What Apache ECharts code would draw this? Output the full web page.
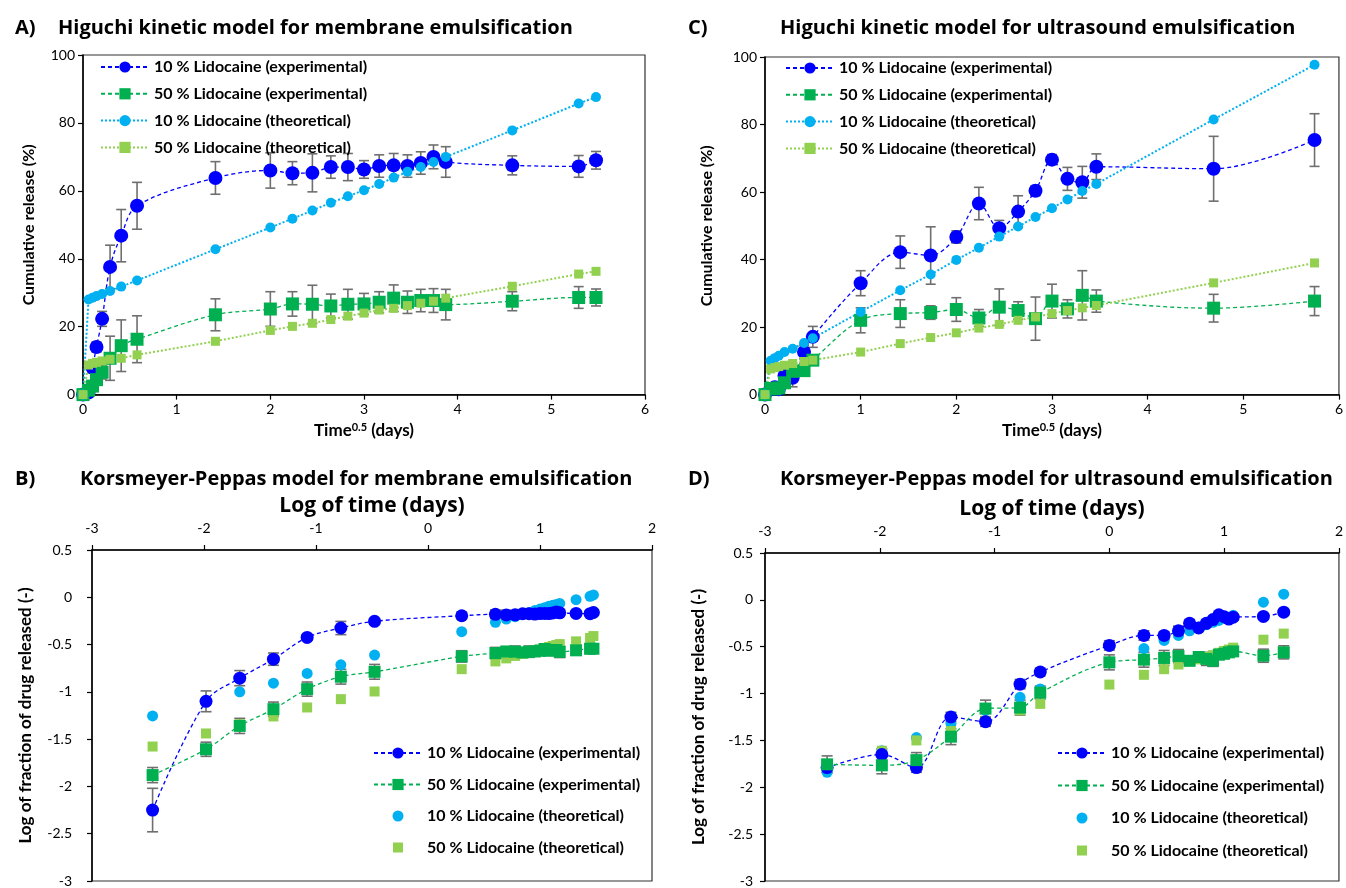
<!DOCTYPE html>
<html lang="en">
<head>
<meta charset="UTF-8">
<title>Lidocaine release kinetics</title>
<script src="https://cdn.jsdelivr.net/npm/echarts@6/dist/echarts.min.js"></script>
<style>
  body { margin: 0; background: #fff; }
  .panel { position: absolute; width: 673px; height: 444px; }
</style>
</head>
<body>
<div class="panel" id="pA" style="left:0;top:0;"></div>
<div class="panel" id="pC" style="left:673px;top:0;"></div>
<div class="panel" id="pB" style="left:0;top:444px;"></div>
<div class="panel" id="pD" style="left:673px;top:444px;"></div>

<script type="text/javascript">
// ---- A) Higuchi, membrane emulsification (x = sqrt of time in days) ----
var higMemX = [0, 0.059, 0.102, 0.144, 0.204, 0.289, 0.408, 0.577, 1.414, 2, 2.236, 2.449, 2.646, 2.828, 3, 3.162, 3.317, 3.464, 3.606, 3.742, 3.873, 4.583, 5.292, 5.477];
var higMem10Exp = [0, 0.6, 7.9, 14, 22.3, 37.6, 46.8, 55.6, 63.8, 66, 65.2, 65.3, 67, 67, 66.3, 67.3, 67.5, 67.3, 68.2, 70, 68.5, 67.5, 67.2, 69];
var higMem10Err = [0, 0.2, 1.5, 1.5, 2.2, 6.4, 7.7, 6.9, 4.8, 5.2, 3.4, 5.6, 3.3, 4, 2.6, 3.3, 3.5, 3.3, 3.3, 3.5, 4.5, 2.8, 3.2, 2.6];
var higMem50Exp = [0, 1.3, 2.5, 4.4, 6.6, 10.7, 14.4, 16.3, 23.5, 25.2, 26.7, 26.6, 26.1, 26.6, 26.7, 27.2, 28.4, 27.2, 27.7, 27.7, 26.5, 27.5, 28.6, 28.6];
var higMem50Err = [0, 0.3, 0.5, 1, 2, 6.5, 7.6, 6.9, 4.7, 5.1, 3.6, 5.6, 3.5, 4.4, 3.1, 3.1, 3.9, 3.3, 3.3, 3.5, 4.5, 2.8, 3.2, 2.5];
var higMem10Theo = [0, 28, 28.5, 29, 29.6, 30.5, 31.8, 33.6, 42.8, 49.2, 51.8, 54.2, 56.5, 58.4, 60.2, 62, 63.9, 65.6, 67, 68.5, 70, 77.8, 85.7, 87.6];
var higMem50Theo = [0, 8.7, 9.2, 9.5, 9.9, 10.4, 10.7, 11.7, 15.7, 18.9, 20.1, 21, 22.1, 23.1, 24, 24.9, 25.4, 26.2, 26.9, 27.5, 28.4, 31.9, 35.5, 36.3];

// ---- C) Higuchi, ultrasound emulsification ----
var higUsX = [0, 0.059, 0.102, 0.144, 0.204, 0.289, 0.408, 0.5, 1, 1.414, 1.732, 2, 2.236, 2.449, 2.646, 2.828, 3, 3.162, 3.317, 3.464, 4.69, 5.745];
var higUs10Exp = [0, 1.6, 2.2, 1.6, 5.6, 5.0, 12.6, 17.1, 33, 42.2, 41.2, 46.7, 56.6, 49.3, 54.2, 60.4, 69.6, 63.9, 62.9, 67.5, 66.9, 75.4];
var higUs10Err = [0, 0.3, 0.4, 0.3, 1, 2.7, 2, 3.1, 3.7, 4.8, 8.5, 1.8, 4.8, 2.3, 4.7, 1.5, 1.5, 3.4, 4.7, 3.8, 9.6, 7.8];
var higUs50Exp = [0, 1.8, 1.7, 2.0, 3.5, 6.9, 7.1, 10.2, 22, 24, 24.3, 25.2, 22.7, 25.9, 24.9, 22.5, 27.7, 25.4, 29.4, 27.7, 25.6, 27.7];
var higUs50Err = [0, 0.3, 0.3, 0.4, 0.6, 1.2, 1.5, 1.5, 3.7, 4.1, 2, 3.5, 2.5, 5.4, 2.6, 6.4, 5, 2.7, 7.3, 3.3, 4.1, 4.3];
var higUs10Theo = [0, 10, 10.8, 11.5, 12.6, 13.6, 15.3, 16.7, 24.5, 30.9, 35.6, 39.9, 43.5, 46.8, 49.8, 52.6, 55.2, 57.8, 60.3, 62.4, 81.5, 97.7];
var higUs50Theo = [0, 7.6, 8.0, 8.3, 8.7, 9.2, 9.8, 10.2, 12.6, 15.1, 16.9, 18.3, 19.7, 20.8, 22, 23, 24, 24.9, 25.7, 26.4, 33.1, 39];

// ---- B) Korsmeyer-Peppas, membrane emulsification (x = log time) ----
var kpMemX = [-2.459, -1.982, -1.681, -1.380, -1.079, -0.778, -0.477, 0.301, 0.602, 0.699, 0.778, 0.845, 0.903, 0.954, 1.0, 1.041, 1.079, 1.114, 1.146, 1.176, 1.322, 1.447, 1.477];
var kpMem10Exp = [-2.25, -1.10, -0.855, -0.654, -0.424, -0.325, -0.254, -0.195, -0.18, -0.186, -0.185, -0.174, -0.174, -0.178, -0.172, -0.171, -0.172, -0.166, -0.155, -0.164, -0.171, -0.173, -0.161];
var kpMem10Err = [0.23, 0.11, 0.08, 0.065, 0.03, 0.07, 0.03, 0.035, 0.045, 0.05, 0.025, 0.04, 0.03, 0.025, 0.03, 0.03, 0.03, 0.02, 0.025, 0.03, 0.02, 0.025, 0.02];
var kpMem50Exp = [-1.88, -1.607, -1.36, -1.183, -0.971, -0.84, -0.788, -0.625, -0.59, -0.573, -0.575, -0.583, -0.575, -0.573, -0.565, -0.547, -0.565, -0.558, -0.558, -0.577, -0.561, -0.544, -0.544];
var kpMem50Err = [0.08, 0.075, 0.08, 0.075, 0.075, 0.078, 0.078, 0.06, 0.06, 0.05, 0.06, 0.05, 0.06, 0.05, 0.05, 0.05, 0.05, 0.05, 0.05, 0.06, 0.05, 0.05, 0.04];
var kpMem10Theo = [-1.254, -1.10, -1.0, -0.908, -0.805, -0.714, -0.611, -0.364, -0.265, -0.23, -0.205, -0.18, -0.16, -0.14, -0.125, -0.11, -0.095, -0.085, -0.075, -0.065, -0.025, 0.01, 0.025];
var kpMem50Theo = [-1.578, -1.44, -1.342, -1.26, -1.165, -1.077, -0.996, -0.76, -0.678, -0.646, -0.62, -0.60, -0.58, -0.565, -0.55, -0.54, -0.525, -0.515, -0.505, -0.495, -0.466, -0.43, -0.41];

// ---- D) Korsmeyer-Peppas, ultrasound emulsification ----
var kpUsX = [-2.459, -1.982, -1.681, -1.380, -1.079, -0.778, -0.602, 0, 0.301, 0.477, 0.602, 0.699, 0.778, 0.845, 0.903, 0.954, 1.0, 1.041, 1.079, 1.342, 1.519];
var kpUs10Exp = [-1.79, -1.65, -1.79, -1.25, -1.30, -0.90, -0.77, -0.486, -0.38, -0.38, -0.33, -0.25, -0.30, -0.25, -0.21, -0.16, -0.18, -0.205, -0.185, -0.177, -0.131];
var kpUs10Err = [0.05, 0.06, 0.05, 0.05, 0.05, 0.05, 0.04, 0.05, 0.05, 0.04, 0.05, 0.04, 0.03, 0.04, 0.02, 0.02, 0.03, 0.03, 0.03, 0.03, 0.03];
var kpUs50Exp = [-1.755, -1.766, -1.71, -1.46, -1.16, -1.15, -0.99, -0.667, -0.638, -0.62, -0.60, -0.65, -0.61, -0.63, -0.65, -0.585, -0.575, -0.56, -0.55, -0.596, -0.56];
var kpUs50Err = [0.09, 0.09, 0.08, 0.085, 0.09, 0.08, 0.07, 0.08, 0.08, 0.08, 0.07, 0.05, 0.05, 0.07, 0.06, 0.05, 0.05, 0.04, 0.04, 0.07, 0.07];
var kpUs10Theo = [-1.84, -1.61, -1.47, -1.32, -1.18, -1.04, -0.95, -0.663, -0.52, -0.433, -0.38, -0.33, -0.29, -0.265, -0.24, -0.22, -0.20, -0.185, -0.165, -0.025, 0.06];
var kpUs50Theo = [-1.77, -1.61, -1.50, -1.40, -1.29, -1.18, -1.11, -0.904, -0.80, -0.74, -0.69, -0.656, -0.635, -0.61, -0.59, -0.565, -0.545, -0.53, -0.51, -0.425, -0.36];

var seriesNames = ['10 % Lidocaine (experimental)', '50 % Lidocaine (experimental)', '10 % Lidocaine (theoretical)', '50 % Lidocaine (theoretical)'];

var FONT = 'Lato, "Open Sans", sans-serif';
var TITLE_FONT = '"Open Sans", Lato, sans-serif';
var BLUE = '#0000ff', GREEN = '#00b050', CYAN = '#00b0f0', LGREEN = '#92d050';

// legend icons for the marker-only series, padded so they stay small inside a 14px box
var ICON_DOT = 'path://M0,0L0,0M14,14L14,14M12.5,7A5.5,5.5,0,1,1,1.5,7A5.5,5.5,0,1,1,12.5,7Z';
var ICON_SQUARE = 'path://M0,0L0,0M14,14L14,14M2,2L12,2L12,12L2,12Z';

var pairs = function(xs, ys){
    var out = [];
    for (var i = 0; i < xs.length; i++) out.push([xs[i], ys[i]]);
    return out;
};

// vertical error bars with caps, drawn through the axes' own scales
var errorBars = function(xs, ys, errs, cap){
    var d = [];
    for (var i = 0; i < xs.length; i++){
        if (errs[i] > 0) d.push([xs[i], ys[i] - errs[i], ys[i] + errs[i]]);
    }
    return {
        type: 'custom', silent: true, data: d,
        encode: {x: 0, y: [1, 2]},
        renderItem: function(params, api){
            var lo = api.coord([api.value(0), api.value(1)]);
            var hi = api.coord([api.value(0), api.value(2)]);
            var st = {stroke: '#6f6f6f', lineWidth: 1.6};
            var h = cap / 2;
            return {type: 'group', children: [
                {type: 'line', shape: {x1: lo[0], y1: lo[1], x2: hi[0], y2: hi[1]}, style: st},
                {type: 'line', shape: {x1: lo[0] - h, y1: lo[1], x2: lo[0] + h, y2: lo[1]}, style: st},
                {type: 'line', shape: {x1: hi[0] - h, y1: hi[1], x2: hi[0] + h, y2: hi[1]}, style: st}
            ]};
        }
    };
};

var expLine = function(name, data, color, symbol, size){
    return {
        name: name, type: 'line', data: data, smooth: 0.35,
        symbol: symbol, symbolSize: size,
        itemStyle: {color: color},
        lineStyle: {color: color, width: 1.3, type: [4, 3]}
    };
};

var theoLine = function(name, data, color, symbol, size){
    return {
        name: name, type: 'line', data: data,
        symbol: symbol, symbolSize: size,
        itemStyle: {color: color},
        lineStyle: {color: color, width: 2, type: [2, 2]}
    };
};

var theoDots = function(name, data, color, symbol, size){
    return {
        name: name, type: 'scatter', data: data,
        symbol: symbol, symbolSize: size,
        itemStyle: {color: color, opacity: 1}
    };
};

var axisCommon = {
    axisLine: {onZero: false, lineStyle: {color: '#000', width: 1.5}},
    axisTick: {show: true, length: 5, lineStyle: {color: '#000', width: 1.2}},
    axisLabel: {color: '#000', fontSize: 14, fontFamily: FONT},
    splitLine: {show: false},
    nameLocation: 'middle',
    nameTextStyle: {color: '#000', fontSize: 16, fontWeight: 'bold', fontFamily: FONT}
};

var makeAxis = function(extra){
    return echarts.util.merge(echarts.util.clone(axisCommon), extra, true);
};

var titles = function(letter, text, textLeft, top){
    var ts = {fontSize: 20, fontWeight: 'bold', color: '#000', fontFamily: TITLE_FONT};
    return [
        {text: letter, left: 10, top: top, textStyle: ts},
        {text: text, left: textLeft, top: top, textStyle: ts}
    ];
};

var legendBox = function(data, left, top, gap){
    return {
        data: data, orient: 'vertical', left: left, top: top,
        itemWidth: 48, itemHeight: 14, itemGap: gap,
        textStyle: {fontSize: 16, fontWeight: 'bold', color: '#000', fontFamily: FONT},
        selectedMode: false
    };
};

var higuchiChart = function(id, cfg){
    var chart = echarts.init(document.getElementById(id), null, {renderer: 'canvas'});
    chart.setOption({
        animation: false,
        title: titles(cfg.letter, cfg.title, cfg.titleLeft, 13),
        legend: legendBox(seriesNames, cfg.legendLeft, cfg.legendTop, 10.8),
        grid: {left: cfg.grid[0], top: cfg.grid[1], width: cfg.grid[2], height: cfg.grid[3],
               show: true, borderColor: '#333', borderWidth: 1.2},
        xAxis: makeAxis({
            type: 'value', min: 0, max: 6, interval: 1,
            axisLabel: {margin: 8},
            name: '{n|Time}{s|0.5}{n| (days)}', nameGap: 22,
            nameTextStyle: {rich: {
                n: {fontSize: 17, fontWeight: 'bold', fontFamily: FONT, color: '#000'},
                s: {fontSize: 11, fontWeight: 'bold', fontFamily: FONT, color: '#000', verticalAlign: 'top', padding: [0, 0, 7, 0]}
            }}
        }),
        yAxis: makeAxis({
            type: 'value', min: 0, max: 100, interval: 20,
            name: 'Cumulative release (%)', nameGap: cfg.yGap
        }),
        series: [
            errorBars(cfg.x, cfg.e10, cfg.e10err, 10),
            errorBars(cfg.x, cfg.e50, cfg.e50err, 10),
            expLine(seriesNames[0], pairs(cfg.x, cfg.e10), BLUE, 'circle', 14),
            expLine(seriesNames[1], pairs(cfg.x, cfg.e50), GREEN, 'rect', 13),
            theoLine(seriesNames[2], pairs(cfg.x, cfg.t10), CYAN, 'circle', 10),
            theoLine(seriesNames[3], pairs(cfg.x, cfg.t50), LGREEN, 'rect', 9)
        ]
    });
};

var peppasChart = function(id, cfg){
    var chart = echarts.init(document.getElementById(id), null, {renderer: 'canvas'});
    var legendData = [seriesNames[0], seriesNames[1],
        {name: seriesNames[2], icon: ICON_DOT}, {name: seriesNames[3], icon: ICON_SQUARE}];
    chart.setOption({
        animation: false,
        title: titles(cfg.letter, cfg.title, cfg.titleLeft, 20),
        legend: legendBox(legendData, cfg.legendLeft, cfg.legendTop, cfg.legendGap),
        grid: {left: cfg.grid[0], top: cfg.grid[1], width: cfg.grid[2], height: cfg.grid[3],
               show: true, borderColor: '#333', borderWidth: 1.2},
        xAxis: makeAxis({
            type: 'value', position: 'top', min: -3, max: 2, interval: 1,
            axisLabel: {margin: 15},
            name: 'Log of time (days)', nameGap: cfg.xGap,
            nameTextStyle: {fontSize: 21, fontFamily: TITLE_FONT}
        }),
        yAxis: makeAxis({
            type: 'value', min: -3, max: 0.5, interval: 0.5,
            axisLabel: {margin: cfg.yLabelMargin},
            name: 'Log of fraction of drug released (-)', nameGap: cfg.yGap,
            nameTextStyle: {fontSize: 17}
        }),
        series: [
            errorBars(cfg.x, cfg.e10, cfg.e10err, 11),
            errorBars(cfg.x, cfg.e50, cfg.e50err, 11),
            expLine(seriesNames[0], pairs(cfg.x, cfg.e10), BLUE, 'circle', 13),
            expLine(seriesNames[1], pairs(cfg.x, cfg.e50), GREEN, 'rect', 12),
            theoDots(seriesNames[2], pairs(cfg.x, cfg.t10), CYAN, 'circle', 11),
            theoDots(seriesNames[3], pairs(cfg.x, cfg.t50), LGREEN, 'rect', 10)
        ]
    });
};

higuchiChart('pA', {
    letter: 'A)', title: 'Higuchi kinetic model for membrane emulsification', titleLeft: 53,
    grid: [83, 55, 562, 341], yGap: 46, legendLeft: 95, legendTop: 54,
    x: higMemX, e10: higMem10Exp, e10err: higMem10Err, e50: higMem50Exp, e50err: higMem50Err,
    t10: higMem10Theo, t50: higMem50Theo
});

higuchiChart('pC', {
    letter: 'C)', title: 'Higuchi kinetic model for ultrasound emulsification', titleLeft: 102,
    grid: [92, 57, 575, 339], yGap: 50, legendLeft: 107, legendTop: 55,
    x: higUsX, e10: higUs10Exp, e10err: higUs10Err, e50: higUs50Exp, e50err: higUs50Err,
    t10: higUs10Theo, t50: higUs50Theo
});

peppasChart('pB', {
    letter: 'B)', title: 'Korsmeyer-Peppas model for membrane emulsification', titleLeft: 75,
    grid: [92, 106, 560, 332], xGap: 26, yGap: 58, yLabelMargin: 20, legendLeft: 368, legendTop: 296, legendGap: 15.5,
    x: kpMemX, e10: kpMem10Exp, e10err: kpMem10Err, e50: kpMem50Exp, e50err: kpMem50Err,
    t10: kpMem10Theo, t50: kpMem50Theo
});

peppasChart('pD', {
    letter: 'D)', title: 'Korsmeyer-Peppas model for ultrasound emulsification', titleLeft: 102,
    grid: [92, 109, 574, 329], xGap: 29, yGap: 58, yLabelMargin: 12, legendLeft: 379, legendTop: 296, legendGap: 16.5,
    x: kpUsX, e10: kpUs10Exp, e10err: kpUs10Err, e50: kpUs50Exp, e50err: kpUs50Err,
    t10: kpUs10Theo, t50: kpUs50Theo
});
</script>
</body>
</html>
